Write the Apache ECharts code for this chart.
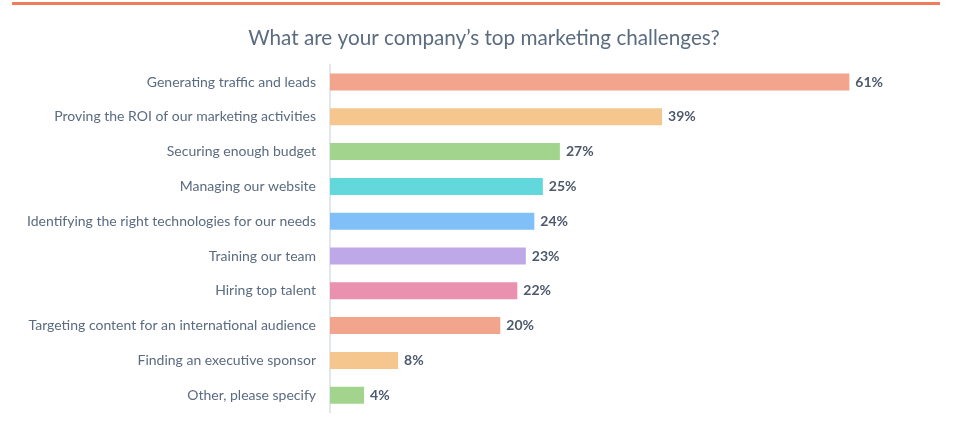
<!DOCTYPE html>
<html>
<head>
<meta charset="utf-8">
<script src="https://cdn.jsdelivr.net/npm/echarts@6/dist/echarts.min.js"></script>
<style>html,body{margin:0;padding:0;background:#fff}#c{width:974px;height:429px}</style>
</head>
<body>
<div id="c"></div>
<script>
const titleText = "What are your company\u2019s top marketing challenges?";
const categories = [
  "Generating traffic and leads",
  "Proving the ROI of our marketing activities",
  "Securing enough budget",
  "Managing our website",
  "Identifying the right technologies for our needs",
  "Training our team",
  "Hiring top talent",
  "Targeting content for an international audience",
  "Finding an executive sponsor",
  "Other, please specify"
];
const values = [61, 39, 27, 25, 24, 23, 22, 20, 8, 4];
const barColors = ["#f2a48d", "#f5c78f", "#a3d48d", "#63d8dc", "#80bff7", "#bea8e8", "#e991ae", "#f2a48d", "#f5c78f", "#a3d48d"];

const chart = echarts.init(document.getElementById('c'), null, {renderer: 'canvas'});
chart.setOption({
  animation: false,
  graphic: [{
    type: 'rect', left: 12, top: 2, shape: {width: 928, height: 3},
    style: {fill: '#ef7d5c'}
  }],
  title: {
    text: titleText, left: 479, textAlign: 'center', top: 23,
    textStyle: {fontFamily: 'Lato', fontSize: 20.7, fontWeight: 'normal', color: '#5b6b80'}
  },
  grid: {left: 330, top: 64.6, height: 348, width: 596},
  xAxis: {
    type: 'value', min: 0, max: 70, show: false
  },
  yAxis: {
    type: 'category', data: categories, inverse: true,
    axisLine: {show: true, lineStyle: {color: '#e2e7ee', width: 2}},
    axisTick: {show: false},
    axisLabel: {margin: 14, fontFamily: 'Lato', fontSize: 14, color: '#5b6b80'}
  },
  series: [{
    type: 'bar', barWidth: 17,
    data: values.map((v, i) => ({value: v, itemStyle: {color: barColors[i]}})),
    label: {
      show: true, position: 'right', distance: 6, formatter: '{c}%',
      fontFamily: 'Lato', fontSize: 14, fontWeight: 'bold', color: '#4d5a6c'
    }
  }]
});
</script>
</body>
</html>
